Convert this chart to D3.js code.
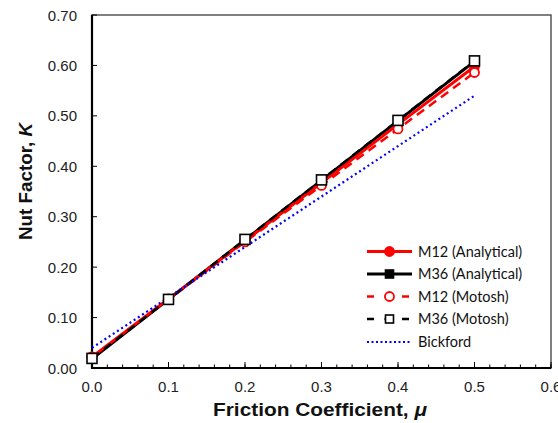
<!DOCTYPE html>
<html>
<head>
<meta charset="utf-8">
<script src="https://cdn.jsdelivr.net/npm/d3@7"></script>
<style>
  body { margin: 0; background: #fff; }
  svg { display: block; }
</style>
</head>
<body>
<script>
// friction coefficient values (x)
var mu = [0, 0.1, 0.2, 0.3, 0.4, 0.5];
// nut factor K for each series
var m12Analytical = [0.022, 0.137, 0.252, 0.367, 0.483, 0.598];
var m36Analytical = [0.018, 0.136, 0.254, 0.372, 0.490, 0.608];
var m12Motosh = [0.022, 0.136, 0.250, 0.362, 0.474, 0.586];
var m36Motosh = [0.019, 0.136, 0.255, 0.373, 0.491, 0.609];
var bickford = [0.040, 0.140, 0.240, 0.340, 0.440, 0.540];

var xTicks = [0, 0.1, 0.2, 0.3, 0.4, 0.5, 0.6];
var yTicks = [0, 0.1, 0.2, 0.3, 0.4, 0.5, 0.6, 0.7];
var legendNames = ["M12 (Analytical)", "M36 (Analytical)", "M12 (Motosh)", "M36 (Motosh)", "Bickford"];

const width = 558, height = 423;
const margin = {top: 15, right: 7, bottom: 55, left: 92};

const svg = d3.select("body").append("svg")
    .attr("width", width)
    .attr("height", height);

const x = d3.scaleLinear().domain([0, 0.6]).range([margin.left, width - margin.right]);
const y = d3.scaleLinear().domain([0, 0.7]).range([height - margin.bottom, margin.top]);

// frame (top + right)
svg.append("rect")
    .attr("x", x(0)).attr("y", y(0.7))
    .attr("width", x(0.6) - x(0)).attr("height", y(0) - y(0.7))
    .attr("fill", "none").attr("stroke", "#555").attr("stroke-width", 1.5);

// x axis, ticks inward
const xAxis = svg.append("g").attr("transform", `translate(0,${y(0)})`);
xAxis.selectAll("line.minor")
    .data(d3.range(0, 31).map(i => i * 0.02))
    .join("line")
    .attr("x1", d => x(d)).attr("x2", d => x(d))
    .attr("y1", 0).attr("y2", -3.5)
    .attr("stroke", "#000").attr("stroke-width", 1);
xAxis.selectAll("line.major")
    .data(xTicks)
    .join("line")
    .attr("x1", d => x(d)).attr("x2", d => x(d))
    .attr("y1", 0).attr("y2", -6)
    .attr("stroke", "#000").attr("stroke-width", 1);
xAxis.selectAll("text")
    .data(xTicks)
    .join("text")
    .attr("x", d => x(d))
    .attr("y", 24)
    .attr("text-anchor", "middle")
    .style("font", "15px 'Liberation Sans', Arial, sans-serif")
    .attr("fill", "#222")
    .text(d => d.toFixed(1));
xAxis.append("line")
    .attr("x1", x(0) - 1).attr("x2", x(0.6))
    .attr("stroke", "#000").attr("stroke-width", 2.2);

// y axis
const yAxis = svg.append("g").attr("transform", `translate(${x(0)},0)`);
yAxis.selectAll("line")
    .data(yTicks)
    .join("line")
    .attr("x1", 0).attr("x2", 5)
    .attr("y1", d => y(d)).attr("y2", d => y(d))
    .attr("stroke", "#000").attr("stroke-width", 1);
yAxis.selectAll("text")
    .data(yTicks)
    .join("text")
    .attr("x", -15)
    .attr("y", d => y(d) + 5.5)
    .attr("text-anchor", "end")
    .style("font", "15px 'Liberation Sans', Arial, sans-serif")
    .attr("fill", "#222")
    .text(d => d.toFixed(2));
yAxis.append("line")
    .attr("y1", y(0.7)).attr("y2", y(0) + 1)
    .attr("stroke", "#000").attr("stroke-width", 2.2);

// axis titles
svg.append("text")
    .attr("x", 213).attr("y", 416)
    .attr("textLength", 214)
    .attr("lengthAdjust", "spacingAndGlyphs")
    .style("font", "bold 18.5px 'Liberation Sans', Arial, sans-serif")
    .attr("fill", "#111")
    .html("Friction Coefficient, <tspan font-style='italic'>μ</tspan>");
svg.append("text")
    .attr("transform", "translate(32,240) rotate(-90)")
    .attr("textLength", 117)
    .attr("lengthAdjust", "spacingAndGlyphs")
    .style("font", "bold 18px 'Liberation Sans', Arial, sans-serif")
    .attr("fill", "#111")
    .html("Nut Factor, <tspan font-style='italic'>K</tspan>");

const line = d3.line().x((d, i) => x(mu[i])).y(d => y(d));

const series = [
    {name: legendNames[0], values: m12Analytical, color: "#ff0000", width: 3, dash: null, marker: "circle", fill: "#ff0000"},
    {name: legendNames[1], values: m36Analytical, color: "#000000", width: 3, dash: null, marker: "square", fill: "#000000"},
    {name: legendNames[2], values: m12Motosh, color: "#ff0000", width: 2.5, dash: "9,6", marker: "circle", fill: "#fff"},
    {name: legendNames[3], values: m36Motosh, color: "#000000", width: 2.5, dash: "9,6", marker: "square", fill: "#fff"},
    {name: legendNames[4], values: bickford, color: "#0000ff", width: 2.2, dash: "2,3", marker: null}
];

// draw lines in order, black analytic under red analytic at low mu
const order = [1, 0, 2, 3, 4];
order.forEach(function(k) {
    const s = series[k];
    svg.append("path")
        .datum(s.values)
        .attr("d", line)
        .attr("fill", "none")
        .attr("stroke", s.color)
        .attr("stroke-width", s.width)
        .attr("stroke-dasharray", s.dash);
});

function drawMarker(g, s, cx, cy, big) {
    if (s.marker == "circle") {
        g.append("circle")
            .attr("cx", cx).attr("cy", cy).attr("r", 4.5)
            .attr("fill", s.fill).attr("stroke", s.color).attr("stroke-width", 1.8);
    } else if (s.marker == "square") {
        const h = big ? 5 : 4;
        g.append("rect")
            .attr("x", cx - h).attr("y", cy - h)
            .attr("width", 2 * h).attr("height", 2 * h)
            .attr("fill", s.fill).attr("stroke", s.color).attr("stroke-width", 1.6);
    }
}

// markers
[0, 1, 2, 3].forEach(function(k) {
    const s = series[k];
    const g = svg.append("g");
    s.values.forEach((v, i) => drawMarker(g, s, x(mu[i]), y(v), k == 3));
});

// legend
const legend = svg.append("g");
const rowY = [251.5, 274, 296.5, 319, 342];
series.forEach(function(s, i) {
    const g = legend.append("g");
    g.append("line")
        .attr("x1", 367).attr("x2", 412)
        .attr("y1", rowY[i]).attr("y2", rowY[i])
        .attr("stroke", s.color)
        .attr("stroke-width", s.width)
        .attr("stroke-dasharray", s.dash ? (s.marker ? "7,10.5" : "2,2.5") : null);
    drawMarker(g, s, 389.5, rowY[i], false);
    g.append("text")
        .attr("x", 418).attr("y", rowY[i] + 5)
        .style("font", "14.5px Lato, 'Open Sans', sans-serif")
        .attr("fill", "#111")
        .text(s.name);
});
</script>
</body>
</html>
